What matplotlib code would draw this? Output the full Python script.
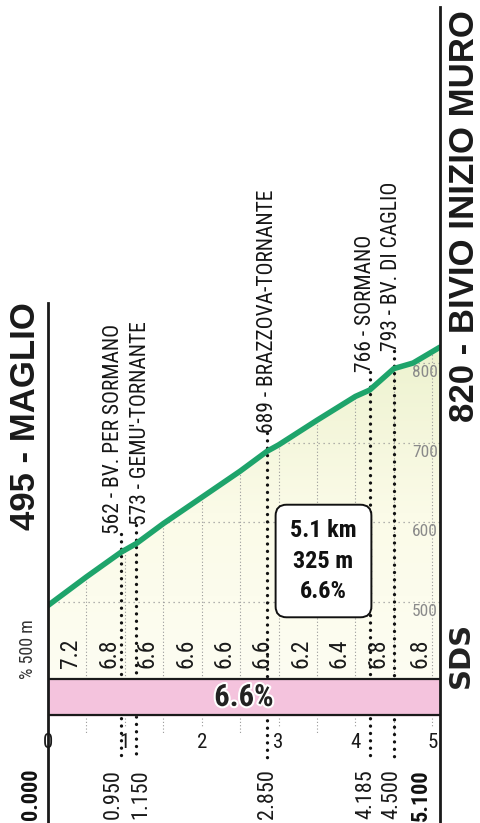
import matplotlib
matplotlib.use('Agg')
import numpy as np
import matplotlib.pyplot as plt
import matplotlib.patheffects as pe
from matplotlib import font_manager
from matplotlib.patches import Polygon
from matplotlib.colors import LinearSegmentedColormap

# profile data (km, metres)
km = [0, 0.5, 0.95, 1.15, 1.5, 2.0, 2.5, 2.85, 3.0, 3.5, 4.0, 4.185, 4.5, 4.75, 5.1]
elev = [495, 531, 562, 573, 598, 631, 664, 689, 697, 728, 758, 766, 793, 800, 820]

# gradient per 500 m
seg_from = [0, 0.5, 1.0, 1.5, 2.0, 2.5, 3.0, 3.5, 4.0, 4.5]
seg_to = [0.5, 1.0, 1.5, 2.0, 2.5, 3.0, 3.5, 4.0, 4.5, 5.1]
seg_grad = [7.2, 6.8, 6.6, 6.6, 6.6, 6.6, 6.2, 6.4, 6.8, 6.8]
avg_grad = 6.6

# waypoints
wp_km = [0.95, 1.15, 2.85, 4.185, 4.5]
wp_elev = [562, 573, 689, 766, 793]
wp_name = ['BV. PER SORMANO', "GEMU'-TORNANTE", 'BRAZZOVA-TORNANTE', 'SORMANO', 'BV. DI CAGLIO']

start_name, start_elev = 'MAGLIO', 495
end_name, end_elev = 'BIVIO INIZIO MURO', 820
total_km = 5.1
gain_m = 325
km_ticks = [0, 1, 2, 3, 4, 5]
elev_grid = [500, 600, 700, 800]

names = {f.name for f in font_manager.fontManager.ttflist}
narrow = next((n for n in ['Liberation Sans Narrow', 'Roboto Condensed', 'Liberation Sans']
               if n in names), 'DejaVu Sans')
boldf = 'Liberation Sans' if 'Liberation Sans' in names else 'DejaVu Sans'

W, H = 480, 823
X0, X1 = 48, 440
S, Y0 = 0.795, 605.5   # px per metre, pixel row of the start


def ypx(p):
    return start_elev + (Y0 - p) / S


def xpx(p):
    return (p - X0) / (X1 - X0) * total_km


fig = plt.figure(figsize=(W / 100, H / 100), dpi=100)
ax = fig.add_axes([X0 / W, 0, (X1 - X0) / W, 1])
ax.axis('off')

band_top = ypx(679)
band_bot = ypx(715)

# cream fill under the profile, down to the pink band
poly = Polygon(list(zip(km, elev)) + [(total_km, band_top), (0, band_top)],
               closed=True, fc='none', ec='none')
ax.add_patch(poly)
cmap = LinearSegmentedColormap.from_list('c', ['#fdfdf2', '#fbfbe8', '#edf2cf'])
im = ax.imshow(np.linspace(0, 1, 256)[:, None], extent=[0, total_km, band_top, max(elev)],
               origin='lower', aspect='auto', cmap=cmap, zorder=1)
im.set_clip_path(poly)

for e in elev_grid:
    l, = ax.plot([0, total_km], [e, e], color='#9a9a9a', lw=0.9, ls=(0, (1, 3)), zorder=2)
    l.set_clip_path(poly)
    ax.annotate(str(e), xy=(xpx(438), e), xytext=(0, -2), textcoords='offset pixels',
                ha='right', va='top', color='#8a8a8a', fontsize=12.5, family=narrow, zorder=3)
for k in np.arange(0.5, total_km, 0.5):
    l, = ax.plot([k, k], [band_top, max(elev)], color='#9a9a9a', lw=0.8, ls=(0, (1, 2)), zorder=2)
    l.set_clip_path(poly)
    ax.plot([k, k], [ypx(718), ypx(733 if k % 1 else 727)], color='#9a9a9a', lw=0.8,
            ls=(0, (1, 2)), zorder=2)

ax.plot(km, elev, color='#1ea46b', lw=4, solid_capstyle='round', zorder=5)

for a, b, g in zip(seg_from, seg_to, seg_grad):
    ax.annotate(f'{g:.1f}', xy=((a + b) / 2, ypx(653)), xytext=(3, 0), textcoords='offset pixels',
                rotation=90, ha='center', va='center', fontsize=17, family=narrow,
                color='#1a1a1a', zorder=4)

# waypoints
nudge = [-8, 4, 0, -4, -2]
gap = 18
for k, e, n, dx in zip(wp_km, wp_elev, wp_name, nudge):
    ax.annotate(f'{e} - {n}', xy=(k, e), xytext=(dx, gap), textcoords='offset pixels',
                rotation=90, ha='center', va='bottom', fontsize=15.5, family=narrow,
                color='#161616', zorder=6)
    ax.plot([k, k], [e + gap / S, ypx(758)], color='#111111', lw=2.4,
            ls=(0, (0.01, 2.2)), dash_capstyle='round', zorder=4)
    ax.annotate(f'{k:.3f}', xy=(k, ypx(769)), xytext=(dx, 0), textcoords='offset pixels',
                rotation=90, ha='center', va='top', fontsize=16, family=narrow,
                color='#1a1a1a')
for k, dx in [(0, -6), (total_km, -8)]:
    ax.annotate(f'{k:.3f}', xy=(k, ypx(769)), xytext=(dx, 0), textcoords='offset pixels',
                rotation=90, ha='right', va='top', fontsize=16, family=narrow,
                fontweight='bold', color='#111111')

# pink average band
ax.fill_between([0, total_km], band_bot, band_top, color='#f4c3dd', zorder=6)
ax.plot([0, total_km], [band_top, band_top], color='#1a1a1a', lw=1.6, zorder=7)
ax.plot([0, total_km], [band_bot, band_bot], color='#1a1a1a', lw=1.6, zorder=7)
ax.text(total_km / 2, ypx(697), f'{avg_grad:.1f}%', ha='center', va='center', fontsize=22,
        family=narrow, fontweight='bold', color='#222222', zorder=8,
        path_effects=[pe.withStroke(linewidth=3, foreground='white')])

for k in km_ticks:
    ax.text(k, ypx(743), str(k), ha='center', va='center', fontsize=15, family=narrow,
            color='#1a1a1a')

# summary box
ax.text(xpx(323.5), ypx(561), f'{total_km} km\n{gain_m} m\n{avg_grad}%', ha='center',
        va='center', fontsize=17.5, family=narrow, fontweight='bold', color='#111111',
        linespacing=1.4, zorder=8,
        bbox=dict(boxstyle='round,pad=0.6,rounding_size=0.45', fc='white', ec='#111111', lw=1.4))

ax.plot([0, 0], [ypx(303), ypx(H)], color='#1a1a1a', lw=2, clip_on=False, zorder=9)
ax.plot([total_km, total_km], [ypx(7), ypx(H)], color='#1a1a1a', lw=2, clip_on=False, zorder=9)
ax.set_xlim(0, total_km)
ax.set_ylim(ypx(H), ypx(0))

fig.text(26 / W, 1 - 530 / H, f'{start_elev} - {start_name}', rotation=90, ha='center',
         va='bottom', fontsize=25, fontweight='bold', family=boldf, color='#1a1a1a')
fig.text(465 / W, 1 - 10 / H, f'{end_elev} - {end_name}', rotation=90, ha='center',
         va='top', fontsize=25, fontweight='bold', family=boldf, color='#1a1a1a')
fig.text(28 / W, 1 - 649 / H, '% 500 m', rotation=90, ha='center', va='center',
         fontsize=13, family=narrow, color='#333333')
fig.text(461 / W, 1 - 655 / H, 'SDS', rotation=90, ha='center', va='center',
         fontsize=21, fontweight='bold', color='#222222')

fig.savefig('out.png', dpi=100)
